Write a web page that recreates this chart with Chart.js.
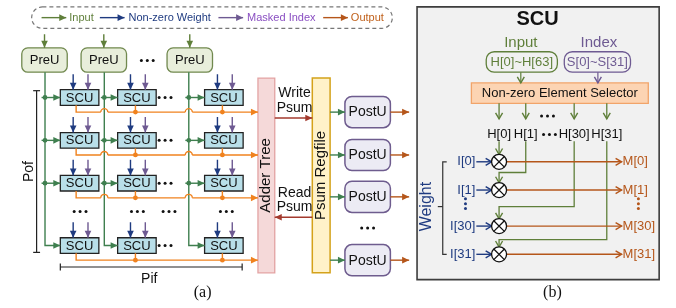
<!DOCTYPE html>
<html>
<head>
<meta charset="utf-8">
<script src="https://cdn.jsdelivr.net/npm/chart.js@4"></script>
<style>
  html, body { margin: 0; padding: 0; background: #fff; }
  canvas { display: block; }
</style>
</head>
<body>
<canvas id="diagram" width="676" height="308"></canvas>
<script>
// === (a) sparse array / (b) SCU detail ===

// legend
const legendLabels = ['Input', 'Non-zero Weight', 'Masked Index', 'Output'];
const legendArrowX = [38, 97, 217, 323];
const legendTextX = [66, 126, 246, 351];

// (a) array
const preuX = [18, 78, 165];          // PreU left edges
const feedX = [41.5, 101.5, 187];     // vertical input feeds
const scuX = [57, 115, 203];          // SCU column left edges
const scuY = [96, 140, 184, 248];     // SCU row centres
const postuY = [111, 155, 198, 263];  // PostU centres

// (b) SCU detail
const hLabels = ['H[0]', 'H[1]', 'H[30]', 'H[31]'];
const hX = [501, 528, 577, 610];
const hTurnY = [null, 173, 208, 242];
const iLabels = ['I[0]', 'I[1]', 'I[30]', 'I[31]'];
const mLabels = ['M[0]', 'M[1]', 'M[30]', 'M[31]'];
const mulY = [162, 191, 228, 257];

const COL = {
  green: '#3f7f4f', olive: '#5f7f3a', navy: '#1f3b80', purple: '#6e5a92',
  violet: '#8a4fc2', orange: '#f0821e', brown: '#b5561a', red: '#a33a2e', ink: '#222',
};
const SANS = "'Liberation Sans', Arial, sans-serif";
const SERIF = "'Liberation Serif', 'Times New Roman', serif";

const wires = [];
function wire(pts, color, arrow = 'solid', width = 1.4) {
  wires.push({ pts, color, arrow, width });
}
const dots = [];
function dot(x, y, color) { dots.push({ x, y, color }); }
const ellipsis = [];
function dots3(x, y, color = '#111', vertical = false) {
  [-1, 0, 1].forEach(k => ellipsis.push(vertical
    ? { x, y: y + k * 5, color } : { x: x + k * 6, y, color }));
}
const boxes = [];
function box(x, y, w, h, fill, stroke, r = 0, lw = 1.3, dash = null) {
  boxes.push({ x, y, w, h, fill, stroke, r, lw, dash });
}
const texts = [];
function text(t, x, y, size, color = '#111', align = 'center', rot = 0, font = SANS, weight = '') {
  texts.push({ t, x, y, size, color, align, rot, font, weight });
}
const hops = [];

// ---- legend ----
box(28, 3, 365, 22, null, '#777', 11, 1.2, [4, 3]);
const legendColors = [COL.olive, COL.navy, COL.purple, COL.brown];
const legendTextColors = [COL.olive, COL.navy, COL.violet, '#c0601a'];
legendLabels.forEach((l, i) => {
  wire([[legendArrowX[i], 14], [legendArrowX[i] + 25, 14]], legendColors[i]);
  text(l, legendTextX[i], 14, 11, legendTextColors[i], 'left');
});

// ---- PreU ----
preuX.forEach(x => {
  box(x, 45, 46, 25, '#e8eedb', '#71894f', 6);
  wire([[x + 23, 31], [x + 23, 45]], COL.olive);
  text('PreU', x + 23, 57.5, 13);
});
dots3(145, 58);

// ---- input feeds ----
feedX.forEach((fx, c) => {
  wire([[fx, 70], [fx, scuY[3]], [scuX[c], scuY[3]]], COL.green);
  scuY.slice(0, 3).forEach(y => {
    wire([[fx - 3.5, y], [scuX[c], y]], COL.green);
    dot(fx, y, COL.green);
  });
});

// ---- SCU grid ----
scuY.forEach((y, r) => {
  const oy = y + 15;
  scuX.forEach((x, c) => {
    box(x, y - 8, 39, 16, '#b9dfe9', COL.ink, 0, 1.3);
    text('SCU', x + 19.5, y + 0.5, 13);
    wire([[x + 13, y - 24], [x + 13, y - 8]], COL.navy);
    wire([[x + 28, y - 24], [x + 28, y - 8]], COL.purple);
    if (c > 0) {
      wire([[x + 18, y + 8], [x + 18, oy]], COL.orange, null);
      dot(x + 18, oy, COL.orange);
    }
  });
  const x0 = scuX[0] + 16;
  if (r < 3) {
    wire([[x0, y + 8], [x0, oy], [feedX[1] - 3.5, oy]], COL.orange, null);
    wire([[feedX[1] + 3.5, oy], [feedX[2] - 3.5, oy]], COL.orange, null);
    wire([[feedX[2] + 3.5, oy], [257, oy]], COL.orange);
    hops.push({ x: feedX[1], y: oy }, { x: feedX[2], y: oy });
  } else {
    wire([[x0, y + 8], [x0, oy], [257, oy]], COL.orange);
  }
  dots3(163, y);
});
[77, 135, 167, 225].forEach(x => dots3(x, 213));

// ---- Pof / Pif brackets ----
wire([[33, 89], [33, 255]], COL.ink, null, 1.2);
wire([[29.5, 89], [36.5, 89]], COL.ink, null, 1.2);
wire([[29.5, 255], [36.5, 255]], COL.ink, null, 1.2);
text('Pof', 25, 172, 14, '#111', 'center', -Math.PI / 2);
wire([[57, 270], [241, 270]], COL.ink, null, 1.2);
wire([[57, 266.5], [57, 273.5]], COL.ink, null, 1.2);
wire([[241, 266.5], [241, 273.5]], COL.ink, null, 1.2);
text('Pif', 147, 282, 14);
text('(a)', 201, 297, 16, '#111', 'center', 0, SERIF);

// ---- adder tree / regfile ----
box(257, 76, 17, 200, '#f5d9d9', '#e3a3a3', 0, 1.3);
text('Adder Tree', 265.5, 176, 15, '#111', 'center', -Math.PI / 2);
box(312, 76, 18, 200, '#fff2c9', '#d4a21a', 0, 1.5);
text('Psum Regfile', 321, 176, 15, '#111', 'center', -Math.PI / 2);
wire([[274, 117], [312, 117]], COL.red);
wire([[312, 219], [274, 219]], COL.red);
text('Write', 294, 92, 14);
text('Psum', 294, 107, 14);
text('Read', 294, 194, 14);
text('Psum', 294, 209, 14);

// ---- PostU ----
postuY.forEach(y => {
  box(345, y - 16, 46, 32, '#ecebf4', '#6e5c8e', 7, 1.5);
  text('PostU', 368, y + 0.5, 14);
  wire([[330, y], [345, y]], COL.green);
  wire([[391, y], [410, y]], COL.brown);
});
dots3(368, 230);

// ---- (b) SCU panel ----
box(418, 3, 245, 280, '#f1f1f1', '#3d3d3d', 0, 1.6);
text('SCU', 540, 16, 20, '#111', 'center', 0, SANS, 'bold');
text('Input', 523, 40, 15, COL.olive);
text('Index', 602, 40, 15, COL.purple);
box(488, 49, 72, 21, null, COL.olive, 8, 1.3);
text('H[0]~H[63]', 524, 60, 13, COL.olive);
box(567, 49, 67, 21, null, COL.purple, 8, 1.3);
text('S[0]~S[31]', 600.5, 60, 13, COL.purple);
wire([[523, 70], [523, 81]], COL.olive, 'open', 1.2);
wire([[601, 70], [601, 81]], COL.purple, 'open', 1.2);
box(473, 81, 179, 21, '#fcd4b3', '#f1a46a', 0, 1.3);
text('Non-zero Element Selector', 562.5, 92, 13);
hX.forEach((x, i) => {
  wire([[x, 102], [x, 118]], COL.olive, 'open', 1.3);
  text(hLabels[i], x, 134, 13);
});
dots3(550, 115);
dots3(552, 134);

hX.forEach((x, i) => {
  const y = mulY[i];
  if (i === 0) wire([[x, 141], [x, y - 7.5]], COL.olive, 'open', 1.3);
  else wire([[x, 141], [x, hTurnY[i]], [hX[0], hTurnY[i]], [hX[0], y - 7.5]], COL.olive, 'open', 1.3);
  wire([[hX[0] + 7.5, y], [625, y]], COL.brown, 'open', 1.4);
  wire([[478, y], [493.5, y]], COL.navy, 'open', 1.4);
  text(iLabels[i], 477, y, 13, COL.navy, 'right');
  text(mLabels[i], 626, y, 13, COL.brown, 'left');
});
dots3(467, 205, COL.navy, true);
dots3(642, 205, COL.brown, true);
wire([[448, 162], [444, 162], [444, 257], [448, 257]], '#333', null, 1.2);
wire([[444, 208], [439, 208]], '#333', null, 1.2);
text('Weight', 428, 208, 16, COL.navy, 'center', -Math.PI / 2);
text('(b)', 555, 297, 16, '#111', 'center', 0, SERIF);

// ---- drawing ----
const diagramPlugin = {
  id: 'diagram',
  beforeDatasetsDraw(chart) {
    const { ctx, scales: { x: xs, y: ys } } = chart;
    ctx.save();
    boxes.forEach(b => {
      const x0 = xs.getPixelForValue(b.x), y0 = ys.getPixelForValue(b.y);
      const w = xs.getPixelForValue(b.x + b.w) - x0, h = ys.getPixelForValue(b.y + b.h) - y0;
      ctx.beginPath();
      ctx.roundRect(x0, y0, w, h, b.r);
      if (b.fill) { ctx.fillStyle = b.fill; ctx.fill(); }
      ctx.setLineDash(b.dash || []);
      ctx.lineWidth = b.lw;
      ctx.strokeStyle = b.stroke;
      ctx.stroke();
    });
    ctx.restore();
  },
  afterDatasetsDraw(chart) {
    const { ctx, scales: { x: xs, y: ys } } = chart;
    ctx.save();
    // hops of the output lines over the input feeds
    ctx.strokeStyle = COL.orange;
    ctx.lineWidth = 1.4;
    hops.forEach(h => {
      ctx.beginPath();
      ctx.arc(xs.getPixelForValue(h.x), ys.getPixelForValue(h.y), 3.5, Math.PI, 0);
      ctx.stroke();
    });
    // arrowheads
    chart.data.datasets.forEach((ds, i) => {
      if (!ds.arrow) return;
      const pts = chart.getDatasetMeta(i).data;
      const a = pts[pts.length - 2], b = pts[pts.length - 1];
      const ang = Math.atan2(b.y - a.y, b.x - a.x);
      const L = ds.arrow === 'open' ? 6 : 7, W = ds.arrow === 'open' ? 3.5 : 3.3;
      const p1 = [b.x - L * Math.cos(ang) + W * Math.sin(ang), b.y - L * Math.sin(ang) - W * Math.cos(ang)];
      const p2 = [b.x - L * Math.cos(ang) - W * Math.sin(ang), b.y - L * Math.sin(ang) + W * Math.cos(ang)];
      ctx.beginPath();
      ctx.moveTo(p1[0], p1[1]);
      ctx.lineTo(b.x, b.y);
      ctx.lineTo(p2[0], p2[1]);
      if (ds.arrow === 'open') {
        ctx.strokeStyle = ds.borderColor;
        ctx.lineWidth = 1.4;
        ctx.stroke();
      } else {
        ctx.closePath();
        ctx.fillStyle = ds.borderColor;
        ctx.fill();
      }
    });
    // multipliers
    mulY.forEach(y => {
      const cx = xs.getPixelForValue(hX[0]), cy = ys.getPixelForValue(y), r = 7.5;
      ctx.beginPath();
      ctx.arc(cx, cy, r, 0, 2 * Math.PI);
      ctx.fillStyle = '#fff';
      ctx.fill();
      ctx.lineWidth = 1.3;
      ctx.strokeStyle = '#111';
      ctx.stroke();
      const d = r * 0.7071;
      ctx.beginPath();
      ctx.moveTo(cx - d, cy - d); ctx.lineTo(cx + d, cy + d);
      ctx.moveTo(cx + d, cy - d); ctx.lineTo(cx - d, cy + d);
      ctx.stroke();
    });
    // labels
    texts.forEach(t => {
      ctx.save();
      ctx.translate(xs.getPixelForValue(t.x), ys.getPixelForValue(t.y));
      ctx.rotate(t.rot);
      ctx.font = `${t.weight} ${t.size}px ${t.font}`;
      ctx.fillStyle = t.color;
      ctx.textAlign = t.align;
      ctx.textBaseline = 'middle';
      ctx.fillText(t.t, 0, 0);
      ctx.restore();
    });
    ctx.restore();
  },
};

const datasets = wires.map(w => ({
  data: w.pts.map(([x, y]) => ({ x, y })),
  showLine: true,
  borderColor: w.color,
  borderWidth: w.width,
  pointRadius: 0,
  fill: false,
  tension: 0,
  clip: false,
  arrow: w.arrow,
}));
datasets.unshift({
  data: dots.map(d => ({ x: d.x, y: d.y })),
  showLine: false,
  pointRadius: 2.4,
  pointBorderWidth: 0,
  pointBackgroundColor: dots.map(d => d.color),
  clip: false,
});
datasets.unshift({
  data: ellipsis.map(d => ({ x: d.x, y: d.y })),
  showLine: false,
  pointRadius: 1.5,
  pointBorderWidth: 0,
  pointBackgroundColor: ellipsis.map(d => d.color),
  clip: false,
});

new Chart(document.getElementById('diagram'), {
  type: 'scatter',
  data: { datasets },
  options: {
    responsive: false,
    animation: false,
    devicePixelRatio: 1,
    events: [],
    layout: { padding: 0 },
    scales: {
      x: { type: 'linear', min: 0, max: 676, display: false },
      y: { type: 'linear', min: 0, max: 308, reverse: true, display: false },
    },
    plugins: { legend: { display: false }, tooltip: { enabled: false } },
  },
  plugins: [diagramPlugin],
});
</script>
</body>
</html>
